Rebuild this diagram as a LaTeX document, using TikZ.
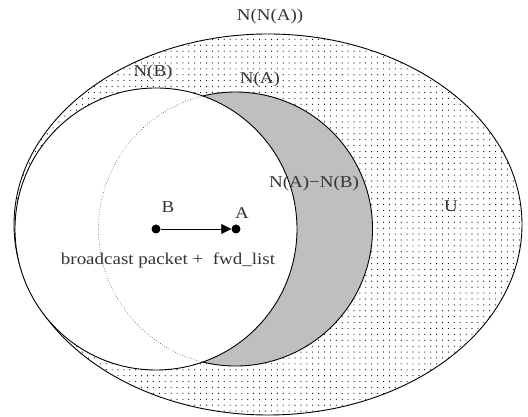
\documentclass[tikz,border=0pt]{standalone}
\usepackage{fontspec}
\setmainfont{Liberation Serif}[FakeStretch=1.15]
\usetikzlibrary{patterns.meta,arrows.meta}
\begin{document}
\begin{tikzpicture}[x=1pt,y=1pt,
  lbl/.style={inner sep=0pt, text=black!80, font=\fontsize{16.5}{18}\selectfont},
  dotnode/.style={circle, fill=black, minimum size=9pt, inner sep=0pt},
  setline/.style={line width=0.9pt, draw=black}]
\useasboundingbox (0,0) rectangle (528,417);
% universe ellipse
\path[setline, pattern={Dots[distance=5.9pt, radius=0.6pt]}, pattern color=black]
  (268,192.5) ellipse [x radius=254, y radius=190.5];
% N(A) filled grey
\fill[black!25] (235.5,188) circle [radius=137];
% N(B) white
\path[setline, fill=white] (156,188) circle [radius=141];
% N(A) outline: solid outside N(B), dotted inside
\draw[setline] (235.5,188) ++(-103.85:137) arc[start angle=-103.85, end angle=103.85, radius=137];
\draw[line width=0.5pt, dotted] (235.5,188) ++(103.85:137) arc[start angle=103.85, end angle=256.15, radius=137];
% nodes
\node[dotnode] (B) at (156,188) {};
\node[dotnode] (A) at (236,188) {};
\draw[line width=0.8pt, -{Triangle[length=10pt,width=10pt]}] (B) -- (A);
% labels
\node[lbl] (lNNA) at (270,400) {N(N(A))};
\node[lbl] (lNB) at (153,344) {N(B)};
\node[lbl] (lNA) at (260,337) {N(A)};
\node[lbl] (lDiff) at (314,233) {N(A)−N(B)};
\node[lbl] (lU) at (451,211) {U};
\node[lbl] (lB) at (168,210) {B};
\node[lbl] (lA) at (242,204) {A};
\node[lbl] (lMsg) at (168,157) {broadcast packet +\ \ fwd\_list};
\end{tikzpicture}
\end{document}
